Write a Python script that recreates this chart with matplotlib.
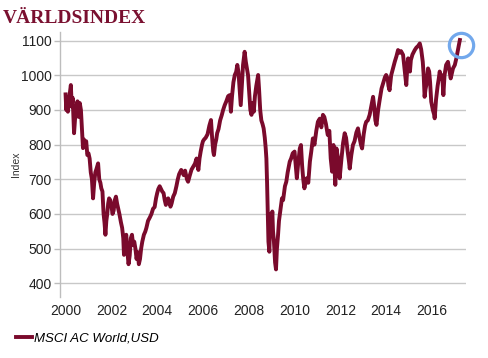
import matplotlib
matplotlib.use("Agg")
import matplotlib.pyplot as plt
from matplotlib.transforms import offset_copy

title = "VÄRLDSINDEX"
series_name = "MSCI AC World,USD"
y_label = "Index"
x_ticks = [2000, 2002, 2004, 2006, 2008, 2010, 2012, 2014, 2016]
y_ticks = [400, 500, 600, 700, 800, 900, 1000, 1100]

dates = [
    2000.00, 2000.03, 2000.07, 2000.10, 2000.15, 2000.20, 2000.23, 2000.27, 2000.31, 2000.35,
    2000.37, 2000.42, 2000.47, 2000.52, 2000.57, 2000.62, 2000.67, 2000.71, 2000.76, 2000.80,
    2000.85, 2000.90, 2000.95, 2001.00, 2001.05, 2001.10, 2001.15, 2001.20, 2001.25, 2001.30,
    2001.35, 2001.42, 2001.47, 2001.52, 2001.56, 2001.61, 2001.66, 2001.70, 2001.74, 2001.78,
    2001.82, 2001.86, 2001.90, 2001.95, 2002.00, 2002.05, 2002.10, 2002.15, 2002.20, 2002.25,
    2002.30, 2002.35, 2002.42, 2002.47, 2002.52, 2002.55, 2002.60, 2002.65, 2002.70, 2002.75,
    2002.80, 2002.85, 2002.90, 2002.95, 2003.00, 2003.05, 2003.10, 2003.15, 2003.20, 2003.25,
    2003.30, 2003.35, 2003.42, 2003.48, 2003.53, 2003.60, 2003.68, 2003.75, 2003.82, 2003.89,
    2003.95, 2004.00, 2004.05, 2004.11, 2004.17, 2004.22, 2004.28, 2004.33, 2004.38, 2004.43,
    2004.48, 2004.53, 2004.58, 2004.63, 2004.70, 2004.77, 2004.84, 2004.90, 2004.96, 2005.05,
    2005.10, 2005.16, 2005.22, 2005.30, 2005.35, 2005.42, 2005.50, 2005.58, 2005.65, 2005.72,
    2005.76, 2005.80, 2005.85, 2005.90, 2005.96, 2006.00, 2006.05, 2006.12, 2006.20, 2006.28,
    2006.35, 2006.40, 2006.45, 2006.48, 2006.53, 2006.58, 2006.62, 2006.68, 2006.75, 2006.82,
    2006.88, 2006.95, 2007.02, 2007.10, 2007.17, 2007.22, 2007.27, 2007.33, 2007.39, 2007.45,
    2007.50, 2007.55, 2007.60, 2007.65, 2007.70, 2007.75, 2007.82, 2007.87, 2007.92, 2007.97,
    2008.02, 2008.07, 2008.12, 2008.17, 2008.22, 2008.27, 2008.33, 2008.41, 2008.45, 2008.50,
    2008.55, 2008.60, 2008.65, 2008.70, 2008.74, 2008.77, 2008.80, 2008.83, 2008.86, 2008.90,
    2008.93, 2008.96, 2009.00, 2009.03, 2009.06, 2009.10, 2009.15, 2009.19, 2009.23, 2009.28,
    2009.32, 2009.40, 2009.45, 2009.50, 2009.58, 2009.64, 2009.70, 2009.79, 2009.85, 2009.92,
    2010.00, 2010.05, 2010.10, 2010.15, 2010.23, 2010.28, 2010.33, 2010.38, 2010.43, 2010.48,
    2010.53, 2010.60, 2010.67, 2010.73, 2010.80, 2010.87, 2010.95, 2011.02, 2011.10, 2011.17,
    2011.24, 2011.30, 2011.37, 2011.45, 2011.52, 2011.58, 2011.64, 2011.70, 2011.74, 2011.78,
    2011.83, 2011.90, 2011.97, 2012.05, 2012.12, 2012.19, 2012.25, 2012.32, 2012.38, 2012.41,
    2012.48, 2012.55, 2012.62, 2012.70, 2012.77, 2012.84, 2012.90, 2012.95, 2013.02, 2013.08,
    2013.13, 2013.20, 2013.28, 2013.35, 2013.43, 2013.48, 2013.53, 2013.58, 2013.65, 2013.72,
    2013.80, 2013.88, 2013.95, 2014.00, 2014.07, 2014.10, 2014.15, 2014.22, 2014.30, 2014.38,
    2014.45, 2014.52, 2014.58, 2014.65, 2014.74, 2014.80, 2014.85, 2014.88, 2014.93, 2014.96,
    2015.00, 2015.04, 2015.08, 2015.15, 2015.25, 2015.32, 2015.40, 2015.47, 2015.53, 2015.60,
    2015.64, 2015.68, 2015.72, 2015.78, 2015.83, 2015.88, 2015.92, 2015.97, 2016.04, 2016.10,
    2016.12, 2016.18, 2016.25, 2016.30, 2016.34, 2016.40, 2016.45, 2016.50, 2016.55, 2016.62,
    2016.70, 2016.75, 2016.82, 2016.85, 2016.92, 2017.00, 2017.07, 2017.12, 2017.17, 2017.22,
]

values = [
    945, 900, 935, 895, 930, 955, 972, 910, 935, 870,
    833, 880, 910, 925, 880, 920, 900, 850, 790, 815,
    800, 810, 770, 775, 760, 720, 700, 645, 690, 720,
    730, 746, 700, 690, 674, 665, 600, 575, 540, 580,
    600, 630, 645, 640, 625, 600, 610, 640, 650, 630,
    615, 600, 575, 560, 530, 482, 525, 540, 490, 455,
    480, 530, 540, 510, 520, 500, 470, 490, 455, 470,
    500, 520, 540, 549, 560, 580, 590, 600, 615, 620,
    645, 660, 672, 680, 672, 665, 660, 640, 626, 640,
    645, 635, 621, 630, 650, 660, 680, 700, 715, 727,
    720, 712, 725, 700, 693, 710, 728, 737, 745, 760,
    740, 727, 760, 780, 800, 810, 815, 820, 830, 855,
    871, 820, 780, 770, 800, 815, 833, 845, 870, 885,
    900, 914, 925, 940, 943, 895, 940, 980, 1001, 1010,
    1030, 1010, 960, 914, 970, 1030, 1068, 1040, 1020, 1000,
    950, 900, 886, 920, 895, 940, 970, 1001, 960, 900,
    870, 860, 847, 820, 790, 760, 690, 600, 520, 491,
    570, 600, 580, 607, 550, 520, 460, 440, 500, 540,
    580, 620, 645, 640, 680, 693, 720, 751, 760, 775,
    780, 740, 703, 740, 789, 799, 740, 700, 674, 690,
    703, 690, 751, 780, 818, 800, 840, 866, 875, 850,
    886, 880, 860, 828, 840, 760, 722, 799, 740, 684,
    789, 760, 703, 760, 805, 833, 820, 780, 750, 731,
    770, 799, 810, 835, 847, 820, 800, 789, 830, 855,
    866, 870, 886, 910, 938, 910, 870, 857, 900, 930,
    962, 980, 995, 1001, 990, 970, 957, 1000, 1020, 1040,
    1055, 1073, 1065, 1070, 1059, 1020, 990, 972, 1030, 1049,
    1025, 1011, 1044, 1060, 1073, 1080, 1085, 1092, 1075, 1039,
    1000, 938, 960, 980, 1020, 1011, 980, 924, 900, 886,
    876, 930, 970, 991, 1011, 990, 1000, 943, 1000, 1030,
    1039, 1020, 991, 1000, 1020, 1030, 1050, 1068, 1085, 1102,
]

line_color = "#7a0a2c"
grid_color = "#c8c8c8"

fig = plt.figure(figsize=(4.88, 3.58), dpi=100)
ax = fig.add_axes([0.1236, 0.171, 0.955 - 0.1236, 0.912 - 0.171])

ax.plot(dates, values, color=line_color, lw=2.8, solid_joinstyle="round", zorder=3)

# highlight circle around the latest value
circ_tr = offset_copy(ax.transData, fig=fig, x=0.5, y=-3.5, units="points")
ax.plot([dates[-1]], [values[-1]], marker="o", ms=17.5, mfc="none",
        mec="#72a8ec", mew=2.3, transform=circ_tr, zorder=4, clip_on=False)

ax.set_xlim(1999.77, 2017.49)
ax.set_ylim(361, 1126.5)
ax.set_xticks(x_ticks)
ax.set_yticks(y_ticks)
ax.set_xticklabels([str(t) for t in x_ticks])
ax.grid(axis="y", color=grid_color, lw=1.0)
ax.set_axisbelow(True)

for s in ["top", "right", "bottom"]:
    ax.spines[s].set_visible(False)
ax.spines["left"].set_color("#bdbdbd")
ax.spines["left"].set_linewidth(1.0)

ax.tick_params(axis="y", length=4, color="#bdbdbd", width=1.0, pad=2,
               labelsize=10, labelcolor="#222222")
ax.tick_params(axis="x", length=0, pad=5, labelsize=10, labelcolor="#222222")
for lab in ax.get_xticklabels() + ax.get_yticklabels():
    lab.set_fontfamily("Liberation Sans")

ax.set_ylabel(y_label, fontsize=7.5, fontfamily="Liberation Sans", color="#333333")
ax.yaxis.set_label_coords(-0.097, 0.5)

fig.text(0.006, 0.948, title, fontsize=14, fontweight="bold", fontfamily="Liberation Serif",
         color="#7a1030", ha="left", va="center")

leg = ax.legend([ax.lines[0]], [series_name], loc="lower left",
                bbox_to_anchor=(0.008, 0.005), bbox_transform=fig.transFigure,
                frameon=False, handlelength=1.2, handletextpad=0.15,
                prop={"family": "Liberation Sans", "style": "italic", "size": 9.5})
leg.get_lines()[0].set_linewidth(2.8)

fig.savefig("out.png", dpi=100)
